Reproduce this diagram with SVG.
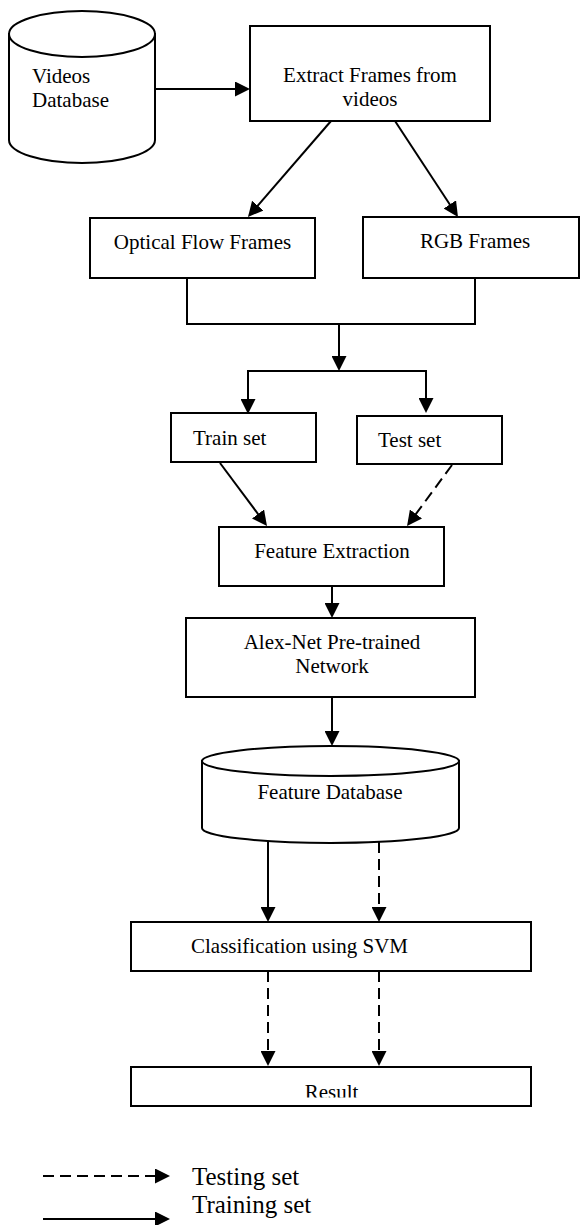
<svg xmlns="http://www.w3.org/2000/svg" width="584" height="1225" viewBox="0 0 584 1225">
  <style>
    .box { fill: #ffffff; stroke: #000000; stroke-width: 2; }
    .line { fill: none; stroke: #000000; stroke-width: 2; }
    .dash { fill: none; stroke: #000000; stroke-width: 2; stroke-dasharray: 11 6; }
    .lbl { font-family: "Liberation Serif", "Times New Roman", serif; font-size: 21px; fill: #000000; }
    .mid { text-anchor: middle; }
    .legend { font-family: "Liberation Serif", "Times New Roman", serif; font-size: 25px; fill: #000000; }
  </style>
  <defs>
    <marker id="arrow" viewBox="0 0 15 15" refX="7" refY="7.5" markerWidth="15" markerHeight="15" markerUnits="userSpaceOnUse" orient="auto">
      <path d="M0,0 L15,7.5 L0,15 Z" fill="#000000"/>
    </marker>
    <clipPath id="resultClip">
      <rect x="131" y="1067" width="400" height="30.5"/>
    </clipPath>
  </defs>

  <rect width="584" height="1225" fill="#ffffff"/>

  <!-- connectors -->
  <g id="connectors">
    <path class="line" d="M155,89 H242" marker-end="url(#arrow)"/>
    <path class="line" d="M331,121 L253.2,210.9" marker-end="url(#arrow)"/>
    <path class="line" d="M395,121 L453.6,210.3" marker-end="url(#arrow)"/>
    <path class="line" d="M187,278 V324 H475 V278"/>
    <path class="line" d="M339,324 V363" marker-end="url(#arrow)"/>
    <path class="line" d="M248,371 H426"/>
    <path class="line" d="M248,370 V406" marker-end="url(#arrow)"/>
    <path class="line" d="M426,370 V405" marker-end="url(#arrow)"/>
    <path class="line" d="M220,463 L262.2,519.6" marker-end="url(#arrow)"/>
    <path class="dash" d="M452,465 L411.8,519.6" marker-end="url(#arrow)"/>
    <path class="line" d="M332,586 V610" marker-end="url(#arrow)"/>
    <path class="line" d="M332,697 V738" marker-end="url(#arrow)"/>
    <path class="line" d="M268,841 V914" marker-end="url(#arrow)"/>
    <path class="dash" d="M379,842 V914" marker-end="url(#arrow)"/>
    <path class="dash" d="M268,971 V1058" marker-end="url(#arrow)"/>
    <path class="dash" d="M379,971 V1058" marker-end="url(#arrow)"/>
  </g>

  <!-- nodes -->
  <g id="videos-db">
    <path class="box" d="M9,34 V140 A73,23 0 0,0 155,140 V34 Z"/>
    <ellipse class="box" cx="82" cy="34" rx="73" ry="23"/>
    <text class="lbl" x="32" y="83">Videos</text>
    <text class="lbl" x="32" y="107">Database</text>
  </g>

  <g id="extract-frames">
    <rect class="box" x="250" y="26" width="240" height="95"/>
    <text class="lbl mid" x="370" y="82">Extract Frames from</text>
    <text class="lbl mid" x="370" y="106">videos</text>
  </g>

  <g id="optical-flow">
    <rect class="box" x="90" y="218" width="225" height="60"/>
    <text class="lbl mid" x="202.5" y="249">Optical Flow Frames</text>
  </g>

  <g id="rgb-frames">
    <rect class="box" x="363" y="217" width="216" height="61"/>
    <text class="lbl mid" x="475" y="248">RGB Frames</text>
  </g>

  <g id="train-set">
    <rect class="box" x="171" y="413" width="145" height="49"/>
    <text class="lbl" x="193" y="445">Train set</text>
  </g>

  <g id="test-set">
    <rect class="box" x="357" y="416" width="145" height="48"/>
    <text class="lbl" x="378" y="447">Test set</text>
  </g>

  <g id="feature-extraction">
    <rect class="box" x="219" y="527" width="225" height="59"/>
    <text class="lbl mid" x="332" y="558">Feature Extraction</text>
  </g>

  <g id="alexnet">
    <rect class="box" x="186" y="618" width="289" height="79"/>
    <text class="lbl mid" x="332" y="649">Alex-Net Pre-trained</text>
    <text class="lbl mid" x="332" y="673">Network</text>
  </g>

  <g id="feature-db">
    <path class="box" d="M202,761 V828 A128.5,15 0 0,0 459,828 V761 Z"/>
    <ellipse class="box" cx="330.5" cy="761" rx="128.5" ry="15"/>
    <text class="lbl mid" x="330" y="799">Feature Database</text>
  </g>

  <g id="classification">
    <rect class="box" x="131" y="922" width="400" height="49"/>
    <text class="lbl" x="191" y="953">Classification using SVM</text>
  </g>

  <g id="result">
    <rect class="box" x="131" y="1067" width="400" height="39"/>
    <text class="lbl mid" x="331.5" y="1099" clip-path="url(#resultClip)">Result</text>
  </g>

  <g id="legend">
    <path class="dash" d="M43,1176 H162" marker-end="url(#arrow)"/>
    <path class="line" d="M43,1219 H162" marker-end="url(#arrow)"/>
    <text class="legend" x="192" y="1185">Testing set</text>
    <text class="legend" x="192" y="1213">Training set</text>
  </g>
</svg>
